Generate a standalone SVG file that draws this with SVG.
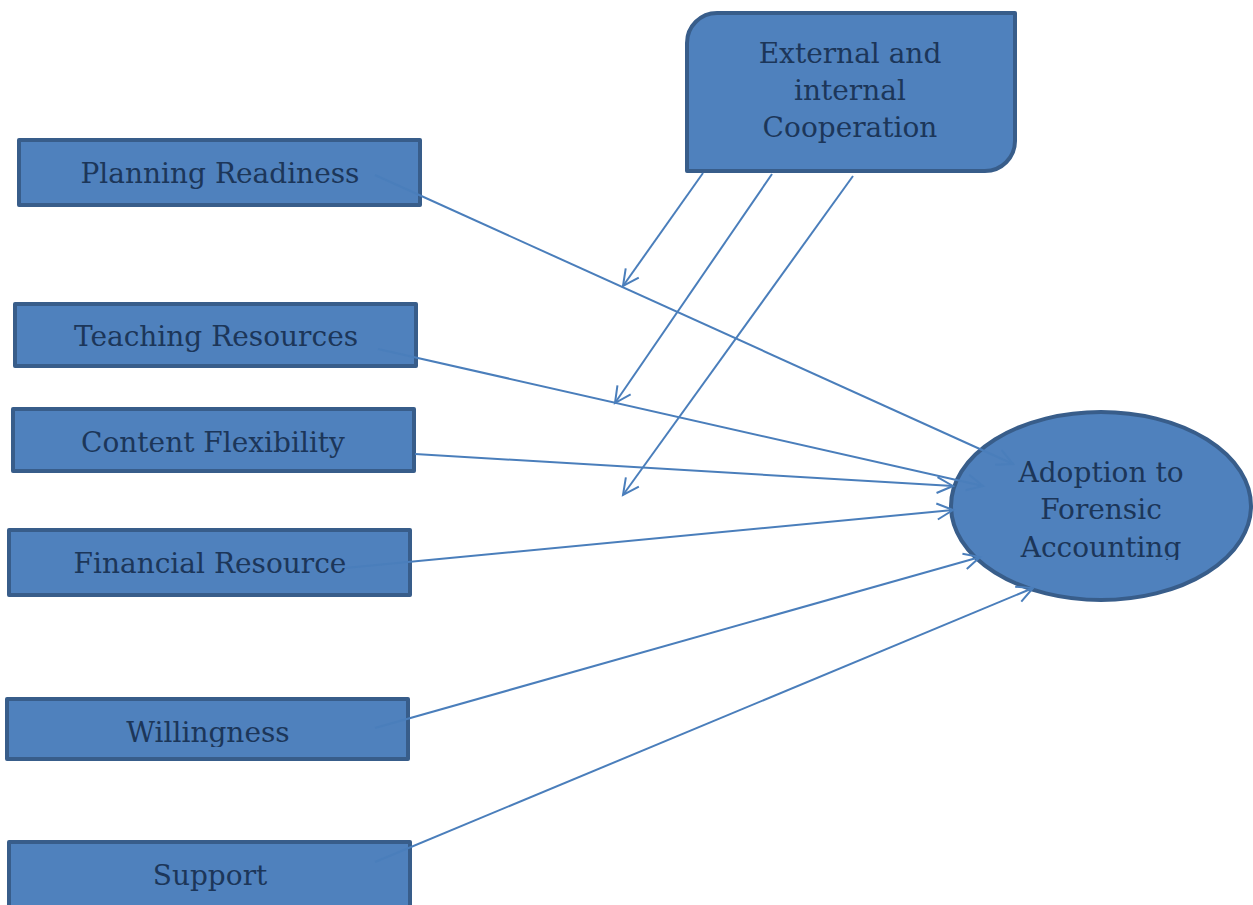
<svg xmlns="http://www.w3.org/2000/svg" width="1253" height="905" viewBox="0 0 1253 905">
<style>
.box{fill:#4f81bd;stroke:#385d8a;stroke-width:4;stroke-linejoin:round}
.lbl{font-family:"DejaVu Serif","Liberation Serif",serif;font-size:28px;fill:#1c3659;text-anchor:middle}
.con{fill:none;stroke:#4a7ebb;stroke-width:2;marker-end:url(#arr)}
</style>
<defs>
<marker id="arr" markerUnits="userSpaceOnUse" markerWidth="22" markerHeight="22" viewBox="-19 -11 22 22" refX="0" refY="0" orient="auto" overflow="visible">
<path d="M-16,-8 L0,0 L-16,8" fill="none" stroke="#4a7ebb" stroke-width="2"/>
</marker>
<clipPath id="clipW"><rect x="0" y="690" width="420" height="57"/></clipPath>
<clipPath id="clipA"><rect x="950" y="400" width="303" height="160"/></clipPath>
</defs>
<rect width="1253" height="905" fill="#ffffff"/>
<g id="n-planning"><rect class="box" x="19" y="140" width="401" height="65"/><text class="lbl" x="220" y="183">Planning Readiness</text></g>
<g id="n-teaching"><rect class="box" x="15" y="304" width="401" height="62"/><text class="lbl" x="216" y="346">Teaching Resources</text></g>
<g id="n-content"><rect class="box" x="13" y="409" width="401" height="62"/><text class="lbl" x="213" y="452">Content Flexibility</text></g>
<g id="n-financial"><rect class="box" x="9" y="530" width="401" height="65"/><text class="lbl" x="210" y="573">Financial Resource</text></g>
<g id="n-willingness"><rect class="box" x="7" y="699" width="401" height="60"/><text class="lbl" x="208" y="742" clip-path="url(#clipW)">Willingness</text></g>
<g id="n-support"><rect class="box" x="9" y="842" width="401" height="100"/><text class="lbl" x="210" y="885">Support</text></g>
<g id="n-cooperation"><path class="box" d="M687,43 A30,30 0 0 1 717,13 L1015,13 L1015,141 A30,30 0 0 1 985,171 L687,171 Z"/><text class="lbl" x="850" y="63">External and</text><text class="lbl" x="850" y="100">internal</text><text class="lbl" x="850" y="137">Cooperation</text></g>
<g id="n-adoption"><ellipse class="box" cx="1101" cy="506" rx="150" ry="94"/><g clip-path="url(#clipA)"><text class="lbl" x="1101" y="482">Adoption to</text><text class="lbl" x="1101" y="519">Forensic</text><text class="lbl" x="1101" y="557">Accounting</text></g></g>
<g id="connectors">
<line class="con" x1="375" y1="175" x2="1013" y2="464"/>
<line class="con" x1="378" y1="349" x2="983" y2="486"/>
<line class="con" x1="415" y1="454" x2="953" y2="486"/>
<line class="con" x1="345" y1="568" x2="953" y2="510"/>
<line class="con" x1="375" y1="728" x2="980" y2="557"/>
<line class="con" x1="375" y1="862" x2="1033" y2="588"/>
<line class="con" x1="703" y1="173" x2="623" y2="286"/>
<line class="con" x1="772" y1="174" x2="615" y2="403"/>
<line class="con" x1="853" y1="176" x2="623" y2="495"/>
</g>
</svg>
